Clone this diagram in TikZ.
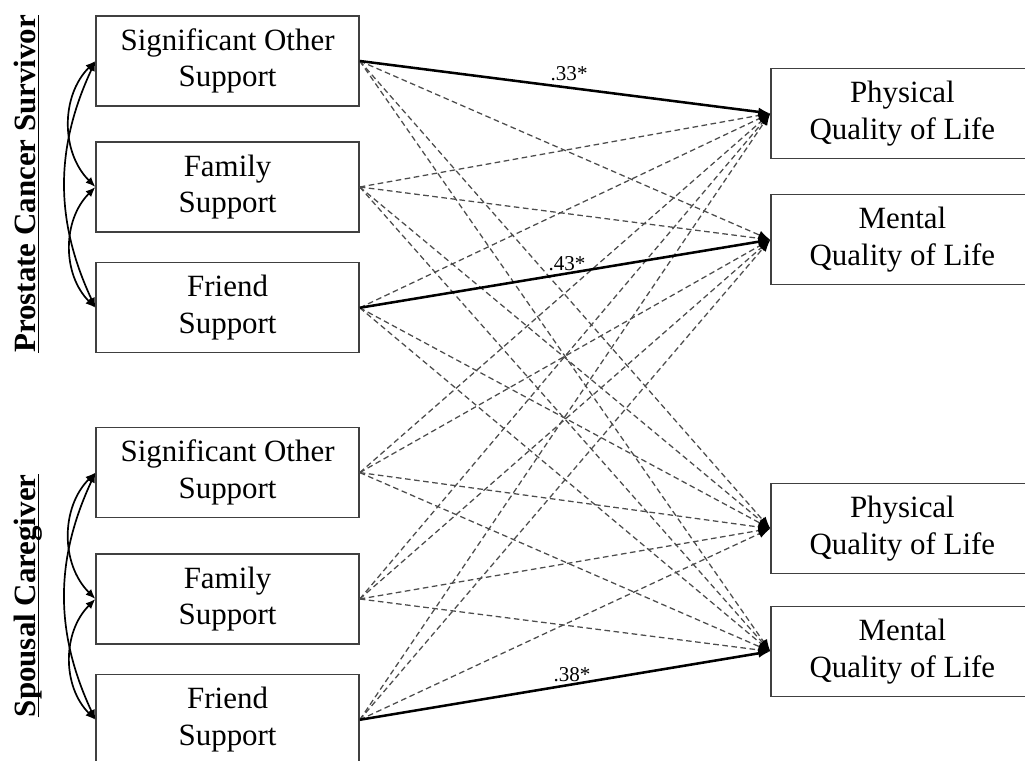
\documentclass[tikz,border=0pt]{standalone}
\usepackage{fontspec}
\setmainfont{Liberation Serif}
\usetikzlibrary{arrows.meta}

\begin{document}
\begin{tikzpicture}[
    box/.style={draw=black!75, line width=0.9pt, minimum width=6.575cm, minimum height=2.25cm, align=center, inner sep=0pt, font=\fontsize{22}{26}\selectfont},
    nsarrow/.style={draw=black!70, dash pattern=on 4pt off 2.5pt, line width=0.9pt, -{Latex[length=3mm, width=2.2mm, color=black]}},
    sigarrow/.style={black, line width=1.8pt, -{Latex[length=3mm, width=2.2mm]}},
    corr/.style={black, line width=1.2pt, {Latex[length=2.5mm, width=2mm]}-{Latex[length=2.5mm, width=2mm]}},
    coef/.style={font=\fontsize{15}{18}\selectfont, inner sep=1pt},
    group/.style={rotate=90, anchor=base, inner sep=0pt, font=\fontsize{22}{26}\selectfont\bfseries},
    uline/.style={black, line width=1.1pt}
  ]
  \clip (0,0) rectangle (25.625,19.025);
  % survivor
  \node[box] (so1) at (5.69,17.5) {Significant Other\\Support};
  \node[box] (fam1) at (5.69,14.35) {Family\\Support};
  \node[box] (fr1) at (5.69,11.33) {Friend\\Support};
  % caregiver
  \node[box] (so2) at (5.69,7.21) {Significant Other\\Support};
  \node[box] (fam2) at (5.69,4.05) {Family\\Support};
  \node[box] (fr2) at (5.69,1.03) {Friend\\Support};
  % outcomes
  \node[box] (pq1) at (22.56,16.19) {Physical\\Quality of Life};
  \node[box] (mq1) at (22.56,13.03) {Mental\\Quality of Life};
  \node[box] (pq2) at (22.56,5.81) {Physical\\Quality of Life};
  \node[box] (mq2) at (22.56,2.74) {Mental\\Quality of Life};
  \node[group] (pcs) at (0.875,14.43) {Prostate Cancer Survivor};
  \node[group] (sc) at (0.875,4.13) {Spousal Caregiver};
  \draw[uline] ([xshift=0.09cm]pcs.base west) -- ([xshift=0.09cm]pcs.base east);
  \draw[uline] ([xshift=0.09cm]sc.base west) -- ([xshift=0.09cm]sc.base east);
  \draw[corr] (so1.west) to[out=225, in=135] (fam1.west);
  \draw[corr] (fam1.west) to[out=225, in=135] (fr1.west);
  \draw[corr] (so1.west) to[out=245, in=115] (fr1.west);
  \draw[corr] (so2.west) to[out=225, in=135] (fam2.west);
  \draw[corr] (fam2.west) to[out=225, in=135] (fr2.west);
  \draw[corr] (so2.west) to[out=245, in=115] (fr2.west);
  \draw[nsarrow] (so1.east) -- (mq1.west);
  \draw[nsarrow] (so1.east) -- (pq2.west);
  \draw[nsarrow] (so1.east) -- (mq2.west);
  \draw[nsarrow] (fam1.east) -- (pq1.west);
  \draw[nsarrow] (fam1.east) -- (mq1.west);
  \draw[nsarrow] (fam1.east) -- (pq2.west);
  \draw[nsarrow] (fam1.east) -- (mq2.west);
  \draw[nsarrow] (fr1.east) -- (pq1.west);
  \draw[nsarrow] (fr1.east) -- (pq2.west);
  \draw[nsarrow] (fr1.east) -- (mq2.west);
  \draw[nsarrow] (so2.east) -- (pq1.west);
  \draw[nsarrow] (so2.east) -- (mq1.west);
  \draw[nsarrow] (so2.east) -- (pq2.west);
  \draw[nsarrow] (so2.east) -- (mq2.west);
  \draw[nsarrow] (fam2.east) -- (pq1.west);
  \draw[nsarrow] (fam2.east) -- (mq1.west);
  \draw[nsarrow] (fam2.east) -- (pq2.west);
  \draw[nsarrow] (fam2.east) -- (mq2.west);
  \draw[nsarrow] (fr2.east) -- (pq1.west);
  \draw[nsarrow] (fr2.east) -- (mq1.west);
  \draw[nsarrow] (fr2.east) -- (pq2.west);
  \draw[sigarrow] (so1.east) -- node[coef, above=3pt, pos=.51] (c1) {.33*} (pq1.west);
  \draw[sigarrow] (fr1.east) -- node[coef, above, pos=.505] (c2) {.43*} (mq1.west);
  \draw[sigarrow] (fr2.east) -- node[coef, above, pos=.517] (c3) {.38*} (mq2.west);
\end{tikzpicture}
\end{document}
